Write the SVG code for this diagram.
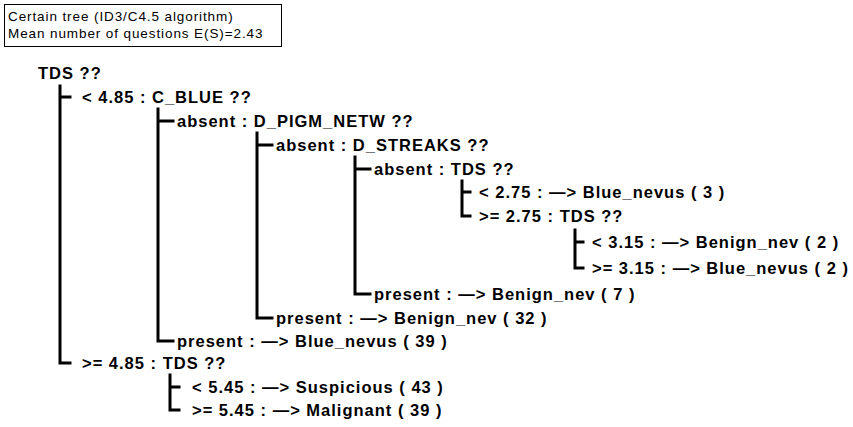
<svg xmlns="http://www.w3.org/2000/svg" width="853" height="427" viewBox="0 0 853 427">
<style>
.t{font-family:"Liberation Sans",Arial,sans-serif;font-weight:bold;font-size:16.5px;letter-spacing:1px;fill:#000}
.h{font-family:"Liberation Sans",Arial,sans-serif;font-size:13.5px;letter-spacing:0.9px;fill:#000}
.c{fill:none;stroke:#000;stroke-width:3;stroke-linecap:square}
</style>
<rect width="853" height="427" fill="#fff"/>
<g id="header">
<rect x="4.5" y="4.5" width="277" height="42" fill="#fff" stroke="#000" stroke-width="1"/>
<text class="h" x="8" y="21">Certain tree (ID3/C4.5 algorithm)</text>
<text class="h" x="8" y="38">Mean number of questions E(S)=2.43</text>
</g>
<g id="connectors">
<path class="c" d="M60 86V363H70M60 97H70"/>
<path class="c" d="M158 109V341H173M158 121H173"/>
<path class="c" d="M257 133V318H272M257 145H272"/>
<path class="c" d="M355 157V294H370M355 169H370"/>
<path class="c" d="M462 181V216H470M462 192H470"/>
<path class="c" d="M575 230V268H583M575 242H583"/>
<path class="c" d="M170 375V410H179M170 387H179"/>
</g>
<g id="n0"><text class="t" x="38" y="79">TDS ??</text></g>
<g id="n1"><text class="t" x="82" y="103">&lt; 4.85 : C_BLUE ??</text></g>
<g id="n2"><text class="t" x="177" y="127">absent : D_PIGM_NETW ??</text></g>
<g id="n3"><text class="t" x="276" y="151">absent : D_STREAKS ??</text></g>
<g id="n4"><text class="t" x="374" y="175">absent : TDS ??</text></g>
<g id="n5"><text class="t" x="479" y="198">&lt; 2.75 : —&gt; Blue_nevus ( 3 )</text></g>
<g id="n6"><text class="t" x="479" y="222">&gt;= 2.75 : TDS ??</text></g>
<g id="n7"><text class="t" x="592" y="248">&lt; 3.15 : —&gt; Benign_nev ( 2 )</text></g>
<g id="n8"><text class="t" x="592" y="274">&gt;= 3.15 : —&gt; Blue_nevus ( 2 )</text></g>
<g id="n9"><text class="t" x="374" y="300">present : —&gt; Benign_nev ( 7 )</text></g>
<g id="n10"><text class="t" x="276" y="324">present : —&gt; Benign_nev ( 32 )</text></g>
<g id="n11"><text class="t" x="177" y="347">present : —&gt; Blue_nevus ( 39 )</text></g>
<g id="n12"><text class="t" x="82" y="369">&gt;= 4.85 : TDS ??</text></g>
<g id="n13"><text class="t" x="192" y="393">&lt; 5.45 : —&gt; Suspicious ( 43 )</text></g>
<g id="n14"><text class="t" x="192" y="416">&gt;= 5.45 : —&gt; Malignant ( 39 )</text></g>
</svg>
